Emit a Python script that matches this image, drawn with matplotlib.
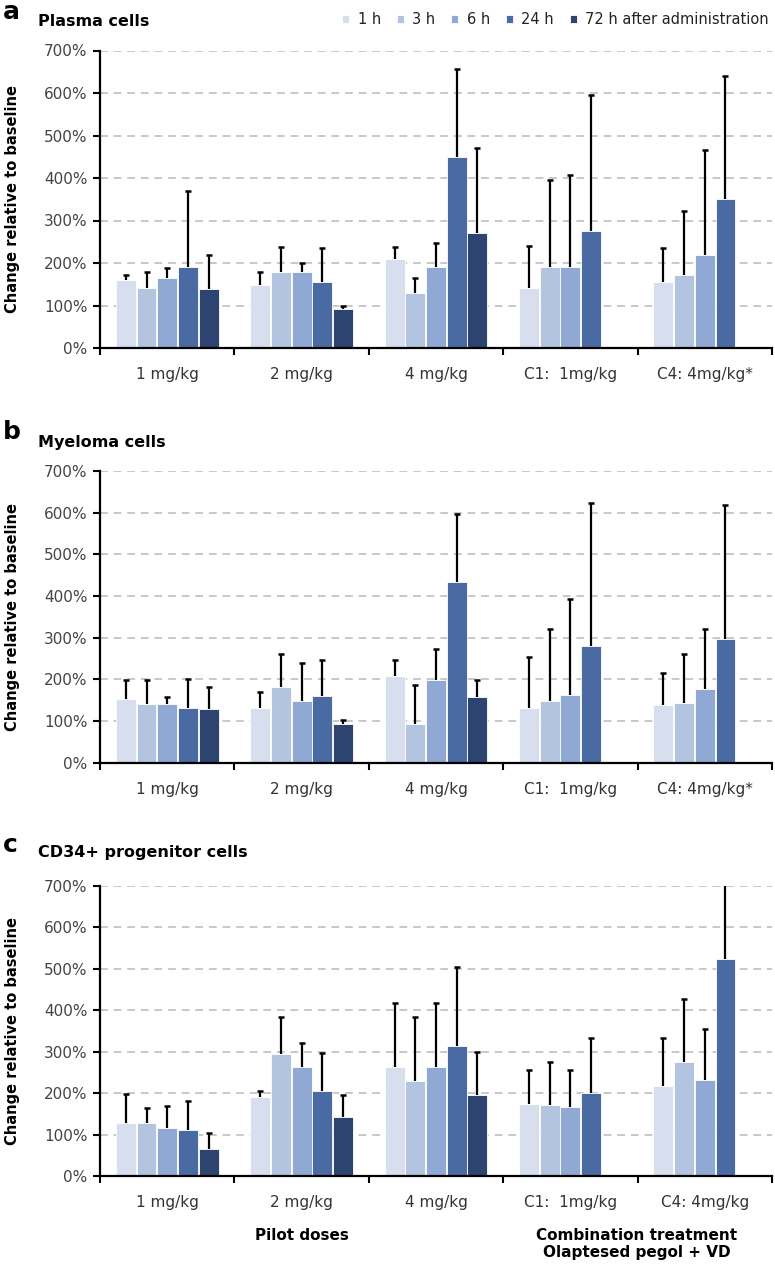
import numpy as np
import matplotlib
matplotlib.use("Agg")
import matplotlib.pyplot as plt
from matplotlib.ticker import FixedLocator, FuncFormatter

nan = np.nan

groups_ab = ["1 mg/kg", "2 mg/kg", "4 mg/kg", "C1:  1mg/kg", "C4: 4mg/kg*"]
groups_c = ["1 mg/kg", "2 mg/kg", "4 mg/kg", "C1:  1mg/kg", "C4: 4mg/kg"]
times = ["1 h", "3 h", "6 h", "24 h", "72 h after administration"]
colors = ["#d7dfee", "#b3c4e0", "#8fa9d4", "#4a6aa4", "#2e4470"]

# mean change (%) per time point, one value per dose group
plasma_mean = [
    [159, 149, 209, 142, 156],
    [141, 180, 130, 190, 172],
    [164, 180, 191, 191, 219],
    [190, 155, 450, 276, 350],
    [138, 91, 271, nan, nan],
]
# top of the error whisker (%)
plasma_top = [
    [171, 179, 238, 240, 236],
    [180, 238, 164, 395, 322],
    [189, 201, 246, 406, 466],
    [369, 235, 656, 595, 641],
    [220, 100, 470, nan, nan],
]

myeloma_mean = [
    [153, 132, 209, 132, 138],
    [140, 181, 92, 149, 144],
    [140, 148, 198, 162, 178],
    [132, 160, 433, 281, 297],
    [130, 93, 158, nan, nan],
]
myeloma_top = [
    [198, 170, 246, 254, 216],
    [198, 260, 186, 322, 261],
    [157, 240, 274, 393, 322],
    [201, 246, 598, 624, 618],
    [181, 102, 198, nan, nan],
]

cd34_mean = [
    [127, 190, 262, 173, 217],
    [127, 294, 230, 171, 276],
    [115, 262, 262, 166, 232],
    [111, 204, 315, 200, 523],
    [64, 143, 195, nan, nan],
]
cd34_top = [
    [198, 205, 418, 257, 332],
    [165, 385, 385, 274, 427],
    [170, 322, 418, 257, 356],
    [182, 296, 504, 332, 760],
    [103, 196, 300, nan, nan],
]

plt.rcParams["font.family"] = ["DejaVu Sans"]

W, H = 775, 1268
fig = plt.figure(figsize=(W / 100, H / 100), dpi=100)


def px_axes(left, top, right, bottom):
    return fig.add_axes([left / W, 1 - bottom / H, (right - left) / W, (bottom - top) / H])


def draw_panel(ax, mean, top, labels):
    pitch = 0.154
    width = 0.148
    centers = np.arange(len(labels)) + 0.5
    handles = []
    for i, (m, t) in enumerate(zip(mean, top)):
        m = np.array(m, dtype=float)
        t = np.array(t, dtype=float)
        x = centers + (i - 2) * pitch
        b = ax.bar(x, m, width, color=colors[i], edgecolor="white", linewidth=0.6, zorder=2)
        handles.append(b)
        ok = ~np.isnan(m)
        err = np.vstack([np.zeros(ok.sum()), t[ok] - m[ok]])
        eb = ax.errorbar(x[ok], m[ok], yerr=err, fmt="none", ecolor="black",
                         elinewidth=1.6, capsize=2.2, capthick=1.8, zorder=3)
        # upper whisker only: hide the cap that sits on the bar top
        eb[1][0].set_visible(False)
    ax.set_xlim(0, len(labels))
    ax.set_ylim(0, 700)
    ax.yaxis.set_major_locator(FixedLocator(np.arange(0, 701, 100)))
    ax.yaxis.set_major_formatter(FuncFormatter(lambda v, p: f"{v:.0f}%"))
    ax.set_xticks(centers)
    ax.set_xticklabels(labels, fontsize=11, color="#333333")
    ax.set_xticks(np.arange(0, len(labels) + 1), minor=True)
    ax.tick_params(axis="x", which="major", length=0, pad=14)
    ax.tick_params(axis="x", which="minor", length=5, width=1.5, direction="out")
    ax.tick_params(axis="y", length=5, width=1.5, labelsize=11, labelcolor="#444444", pad=4)
    ax.grid(axis="y", color="#c8c8c8", linestyle=(0, (4, 3)), linewidth=1.4, zorder=0)
    ax.set_axisbelow(True)
    for s in ["top", "right"]:
        ax.spines[s].set_visible(False)
    for s in ["left", "bottom"]:
        ax.spines[s].set_linewidth(1.6)
    ax.set_ylabel("Change relative to baseline", fontsize=10.5, fontweight="bold")
    # right edge of the rotated label sits at this x
    ax.yaxis.set_label_coords(-0.119, 0.5)
    return handles


ax_a = px_axes(100, 50.5, 772, 348)
ax_b = px_axes(100, 471, 772, 762.7)
ax_c = px_axes(100, 886, 772, 1176)

h = draw_panel(ax_a, plasma_mean, plasma_top, groups_ab)
draw_panel(ax_b, myeloma_mean, myeloma_top, groups_ab)
draw_panel(ax_c, cd34_mean, cd34_top, groups_c)

panels = [("a", "Plasma cells", 12, 22), ("b", "Myeloma cells", 432, 442),
          ("c", "CD34+ progenitor cells", 845, 852)]
for letter, title, ly, ty in panels:
    fig.text(3 / W, 1 - ly / H, letter, fontsize=18, fontweight="bold", va="center", ha="left")
    fig.text(38 / W, 1 - ty / H, title, fontsize=11.5, fontweight="bold", va="center", ha="left")

fig.legend(h, times, loc="center right", bbox_to_anchor=(769 / W, 1 - 20 / H), ncol=5,
           frameon=False, fontsize=10.5, handlelength=0.45, handleheight=0.45,
           handletextpad=0.6, columnspacing=1.1, borderpad=0, borderaxespad=0,
           labelcolor="#222222")

fig.text(302 / W, 1 - 1235 / H, "Pilot doses", fontsize=11, fontweight="bold",
         ha="center", va="center")
fig.text(637 / W, 1 - 1244 / H, "Combination treatment\nOlaptesed pegol + VD", fontsize=11,
         fontweight="bold", ha="center", va="center", linespacing=1.1)

fig.savefig("out.png", dpi=100)
